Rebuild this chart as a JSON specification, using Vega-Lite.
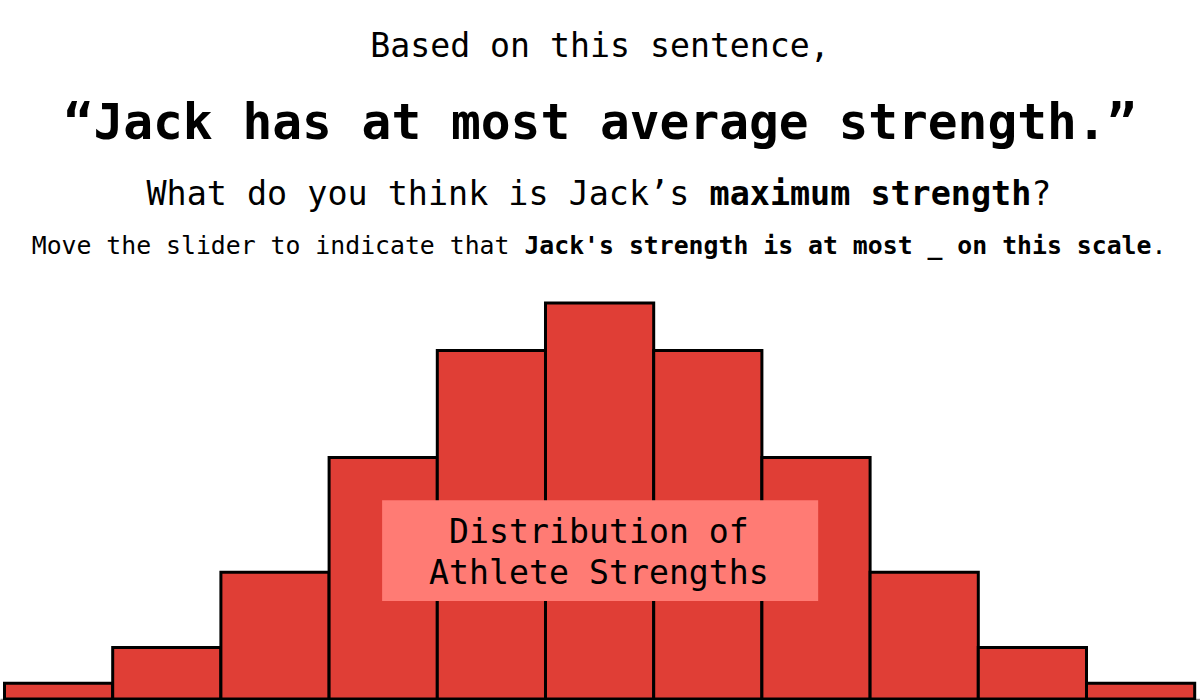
{
  "$schema": "https://vega.github.io/schema/vega-lite/v6.json",
  "width": 1200,
  "height": 550,
  "padding": {"top": 30, "bottom": 0, "left": 0, "right": 0},
  "background": "white",
  "title": {
    "text": "Based on this sentence,",
    "subtitle": "“Jack has at most average strength.”",
    "anchor": "middle",
    "font": "DejaVu Sans Mono",
    "fontSize": 33.2,
    "fontWeight": "normal",
    "color": "black",
    "subtitleFont": "DejaVu Sans Mono",
    "subtitleFontSize": 49.5,
    "subtitleFontWeight": "bold",
    "subtitleColor": "black",
    "subtitlePadding": 35,
    "offset": 0
  },
  "data": {
    "values": [
      {"start": 0, "end": 1, "count": 4},
      {"start": 1, "end": 2, "count": 13},
      {"start": 2, "end": 3, "count": 32},
      {"start": 3, "end": 4, "count": 61},
      {"start": 4, "end": 5, "count": 88},
      {"start": 5, "end": 6, "count": 100},
      {"start": 6, "end": 7, "count": 88},
      {"start": 7, "end": 8, "count": 61},
      {"start": 8, "end": 9, "count": 32},
      {"start": 9, "end": 10, "count": 13},
      {"start": 10, "end": 11, "count": 4}
    ]
  },
  "layer": [
    {
      "mark": {"type": "bar", "fill": "#E03E36", "stroke": "black", "strokeWidth": 3},
      "encoding": {
        "x": {
          "field": "start",
          "type": "quantitative",
          "scale": {"domain": [-0.0416, 11.049], "nice": false, "zero": false},
          "axis": {
            "values": [0.5, 1.5, 2.5, 3.5, 4.5, 5.5, 6.5, 7.5, 8.5, 9.5, 10.5],
            "labels": false,
            "title": null,
            "grid": false,
            "domainColor": "#888888",
            "tickColor": "#888888",
            "tickSize": 6,
            "domainWidth": 1.5,
            "tickWidth": 1.5
          }
        },
        "x2": {"field": "end"},
        "y": {
          "field": "count",
          "type": "quantitative",
          "scale": {"domain": [0, 138.89], "nice": false},
          "axis": null
        },
        "y2": {"datum": 0}
      }
    },
    {
      "data": {"values": [{"label": "box"}]},
      "mark": {"type": "rect", "fill": "#FF7B74"},
      "encoding": {
        "x": {"datum": 3.49, "type": "quantitative"},
        "x2": {"datum": 7.52},
        "y": {"datum": 24.75, "type": "quantitative", "axis": null},
        "y2": {"datum": 50.2}
      }
    },
    {
      "data": {"values": [{"label": "box"}]},
      "mark": {
        "type": "text",
        "text": ["Distribution of", "Athlete Strengths"],
        "font": "DejaVu Sans Mono",
        "fontSize": 33.2,
        "lineHeight": 41.5,
        "align": "center",
        "baseline": "alphabetic",
        "color": "black"
      },
      "encoding": {
        "x": {"datum": 5.494, "type": "quantitative"},
        "y": {"datum": 39.4, "type": "quantitative", "axis": null}
      }
    },
    {
      "data": {"values": [{"t": "What do you think is Jack’s"}]},
      "mark": {"type": "text", "font": "DejaVu Sans Mono", "fontSize": 33.4, "fontWeight": "normal", "align": "left", "baseline": "alphabetic", "color": "black"},
      "encoding": {
        "text": {"field": "t"},
        "x": {"datum": 1.3124, "type": "quantitative"},
        "y": {"datum": 124.7, "type": "quantitative", "axis": null}
      }
    },
    {
      "data": {"values": [{"t": "maximum strength"}]},
      "mark": {"type": "text", "font": "DejaVu Sans Mono", "fontSize": 33.4, "fontWeight": "bold", "align": "left", "baseline": "alphabetic", "color": "black"},
      "encoding": {
        "text": {"field": "t"},
        "x": {"datum": 6.5166, "type": "quantitative"},
        "y": {"datum": 124.7, "type": "quantitative", "axis": null}
      }
    },
    {
      "data": {"values": [{"t": "?"}]},
      "mark": {"type": "text", "font": "DejaVu Sans Mono", "fontSize": 33.4, "fontWeight": "normal", "align": "left", "baseline": "alphabetic", "color": "black"},
      "encoding": {
        "text": {"field": "t"},
        "x": {"datum": 9.4898, "type": "quantitative"},
        "y": {"datum": 124.7, "type": "quantitative", "axis": null}
      }
    },
    {
      "data": {"values": [{"t": "Move the slider to indicate that"}]},
      "mark": {"type": "text", "font": "DejaVu Sans Mono", "fontSize": 24.8, "fontWeight": "normal", "align": "left", "baseline": "alphabetic", "color": "black"},
      "encoding": {
        "text": {"field": "t"},
        "x": {"datum": 0.2514, "type": "quantitative"},
        "y": {"datum": 112.45, "type": "quantitative", "axis": null}
      }
    },
    {
      "data": {"values": [{"t": "Jack's strength is at most _ on this scale"}]},
      "mark": {"type": "text", "font": "DejaVu Sans Mono", "fontSize": 24.8, "fontWeight": "bold", "align": "left", "baseline": "alphabetic", "color": "black"},
      "encoding": {
        "text": {"field": "t"},
        "x": {"datum": 4.805, "type": "quantitative"},
        "y": {"datum": 112.45, "type": "quantitative", "axis": null}
      }
    },
    {
      "data": {"values": [{"t": "."}]},
      "mark": {"type": "text", "font": "DejaVu Sans Mono", "fontSize": 24.8, "fontWeight": "normal", "align": "left", "baseline": "alphabetic", "color": "black"},
      "encoding": {
        "text": {"field": "t"},
        "x": {"datum": 10.601, "type": "quantitative"},
        "y": {"datum": 112.45, "type": "quantitative", "axis": null}
      }
    }
  ],
  "config": {
    "view": {"stroke": null},
    "axisY": {"disable": true}
  }
}
